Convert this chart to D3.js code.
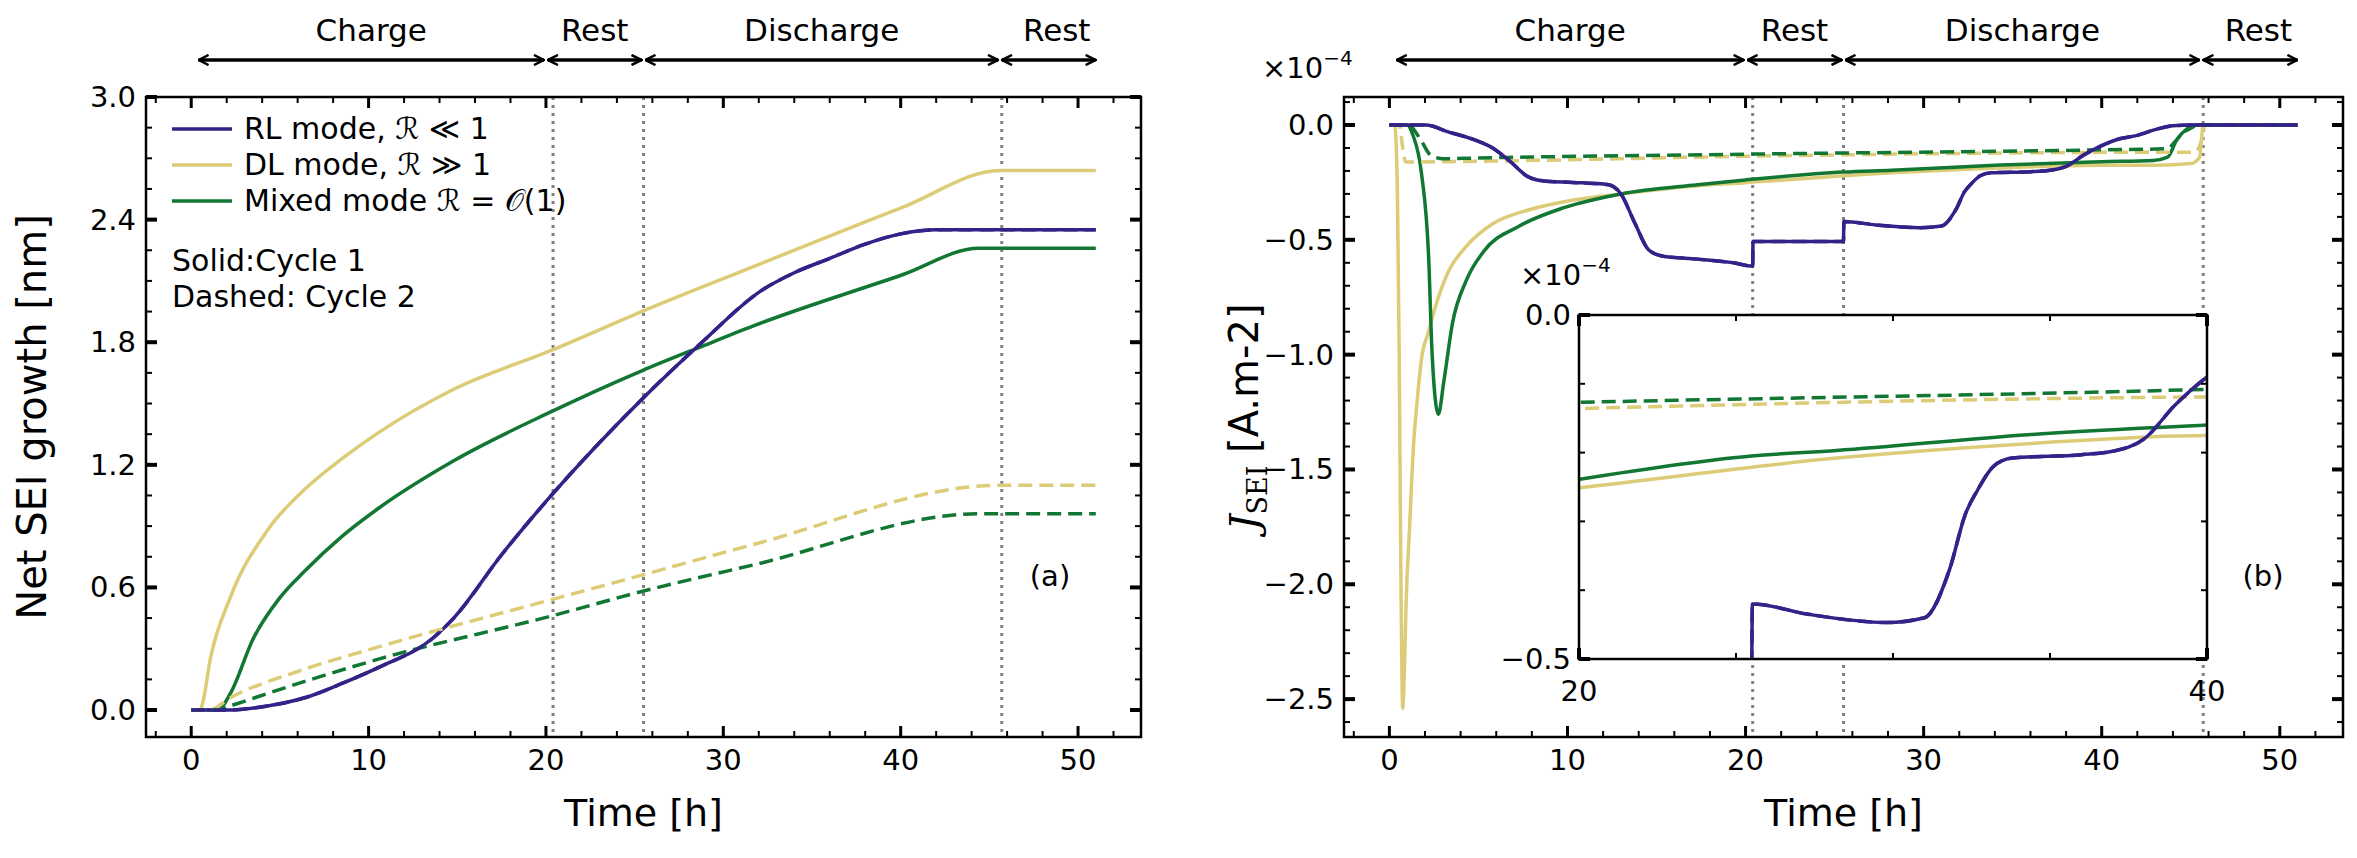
<!DOCTYPE html>
<html><head><meta charset="utf-8">
<script src="https://cdn.jsdelivr.net/npm/d3@7"></script>
<style>body{margin:0;background:#fff}text{font-family:"DejaVu Sans",sans-serif}</style>
</head><body><svg id="c" width="2357" height="858"></svg>
<script>
// ---------- DATA ----------
const phaseBounds = [0.3, 20.0, 25.5, 45.6, 51.1];
const phaseLabels = ["Charge", "Rest", "Discharge", "Rest"];
const vLines = [20.4, 25.5, 45.7];
const leftYTicks = [0.0, 0.6, 1.2, 1.8, 2.4, 3.0];
const xTicks = [0, 10, 20, 30, 40, 50];
const rightYTicks = [0.0, -0.5, -1.0, -1.5, -2.0, -2.5];
const legendLabels = ["RL mode, \u211B \u226A 1", "DL mode, \u211B \u226B 1", "Mixed mode \u211B = \uD835\uDCAA(1)"];

// (a) Net SEI growth [nm]
const aRL_t = [0, 2, 4.3, 6.4, 8.5, 10.6, 13.6, 14.8, 17.5, 20.3, 25.4, 28.8, 32.1, 34, 36, 38, 40, 42, 45.6, 51];
const aRL_v = [0, 0, 0.02, 0.06, 0.13, 0.21, 0.35, 0.45, 0.76, 1.05, 1.52, 1.8, 2.05, 2.14, 2.21, 2.28, 2.33, 2.35, 2.35, 2.35];
const aDL_t = [0, 0.5, 0.6, 1.1, 2.2, 4.3, 6.4, 8.5, 10.6, 14.8, 20.3, 25.4, 31.7, 40.1, 45.6, 51];
const aDL_v = [0, 0, 0.02, 0.26, 0.55, 0.88, 1.08, 1.23, 1.36, 1.57, 1.76, 1.95, 2.17, 2.46, 2.64, 2.64];
const aMX_t = [0, 1.5, 2.2, 3.5, 5, 6.4, 8.5, 10.6, 14.8, 20.3, 25.4, 28.8, 31.7, 40.1, 44.4, 45.6, 51];
const aMX_v = [0, 0, 0.08, 0.35, 0.55, 0.68, 0.85, 0.99, 1.22, 1.46, 1.66, 1.78, 1.88, 2.13, 2.26, 2.26, 2.26];
const aDL2_t = [0, 1.0, 2.2, 6.4, 10.6, 20.3, 25.4, 31.7, 45.6, 51];
const aDL2_v = [0, 0, 0.06, 0.2, 0.31, 0.54, 0.66, 0.81, 1.10, 1.10];
const aMX2_t = [0, 1.5, 2.2, 6.4, 10.6, 20.3, 25.4, 31.7, 44.4, 45.6, 51];
const aMX2_v = [0, 0, 0.02, 0.14, 0.25, 0.46, 0.58, 0.71, 0.96, 0.96, 0.96];

// (b) J_SEI [x1e-4 A.m-2]
const bRL_t = [0, 2.05, 3.3, 4.8, 5.8, 6.8, 7.8, 8.8, 10.3, 12.3, 13.0, 13.8, 14.55, 15.3, 17.3, 19.3, 20.4, 20.42, 25.5, 25.52, 27.3, 29.8, 31.0, 31.8, 32.3, 32.7, 33.2, 33.8, 36.0, 37.0, 38.0, 39.0, 40.0, 41.0, 42.0, 43.0, 44.0, 45.0, 51.0];
const bRL_v = [0, 0, -0.03, -0.065, -0.1, -0.16, -0.226, -0.245, -0.25, -0.26, -0.3, -0.43, -0.543, -0.57, -0.584, -0.6, -0.615, -0.507, -0.507, -0.42, -0.435, -0.447, -0.44, -0.37, -0.29, -0.254, -0.22, -0.208, -0.203, -0.198, -0.18, -0.13, -0.09, -0.06, -0.045, -0.02, -0.003, 0, 0];
const bDL_t = [0, 0.3, 0.45, 0.55, 0.65, 0.75, 0.85, 0.93, 1.14, 1.35, 1.56, 1.8, 2.2, 2.55, 3.3, 4.3, 5.8, 7.8, 9.8, 13.0, 17.3, 20.0, 28.2, 34.3, 40.0, 43.0, 45.0, 45.5, 45.7, 51];
const bDL_v = [0, 0, -0.3, -1.0, -2.0, -2.54, -2.35, -2.1, -1.74, -1.4, -1.2, -1.02, -0.9, -0.8, -0.64, -0.53, -0.43, -0.37, -0.334, -0.3, -0.264, -0.251, -0.208, -0.187, -0.175, -0.175, -0.168, -0.14, 0, 0];
const bMX_t = [0, 1.0, 1.3, 1.8, 2.2, 2.4, 2.75, 3.05, 3.55, 4.3, 5.3, 7.3, 9.8, 13.0, 17.3, 20.0, 25.5, 28.2, 34.3, 40.0, 42.9, 43.7, 44.2, 44.8, 45.2, 51];
const bMX_v = [0, 0, -0.04, -0.21, -0.57, -1.0, -1.26, -1.12, -0.86, -0.68, -0.55, -0.44, -0.36, -0.3, -0.26, -0.239, -0.205, -0.197, -0.174, -0.16, -0.154, -0.14, -0.067, -0.016, 0, 0];
const bDL2_t = [0, 0.55, 0.75, 0.9, 4.8, 20.0, 40.0, 45.2, 45.6, 45.8, 51];
const bDL2_v = [0, 0, -0.1, -0.161, -0.158, -0.136, -0.119, -0.118, -0.07, 0, 0];
const bMX2_t = [0, 1.05, 1.8, 2.3, 3.05, 4.8, 20.0, 40.0, 43.7, 44.1, 44.5, 45.1, 45.3, 51];
const bMX2_v = [0, 0, -0.07, -0.13, -0.147, -0.144, -0.127, -0.108, -0.103, -0.074, -0.038, -0.01, 0, 0];

// ---------- DRAW ----------
const C = {rl: "#332288", dl: "#DDCC77", mx: "#117733"};
const svg = d3.select("#c");
const zip = (t, v) => t.map((d, i) => [d, v[i]]);
const FS = 29;

function panel(x0, x1, yDom, yTicks, yMinorStep, fmt, id) {
  const g = svg.append("g");
  const x = d3.scaleLinear().domain([-2.55, 53.55]).range([x0, x1]);
  const y = d3.scaleLinear().domain(yDom).range([737, 97]);
  svg.append("clipPath").attr("id", id).append("rect").attr("x", x0).attr("y", 97).attr("width", x1 - x0).attr("height", 640);
  const plot = g.append("g").attr("clip-path", `url(#${id})`);
  vLines.forEach(v => plot.append("line").attr("x1", x(v)).attr("x2", x(v)).attr("y1", 97).attr("y2", 737)
    .attr("stroke", "#808080").attr("stroke-width", 3).attr("stroke-dasharray", "3,5"));
  const tk = g.append("g").attr("stroke", "#000");
  d3.range(-2, 54, 2).forEach(v => { const L = (v % 10 === 0) ? 11 : 6, w = (v % 10 === 0) ? 3 : 2;
    tk.append("line").attr("x1", x(v)).attr("x2", x(v)).attr("y1", 737).attr("y2", 737 - L).attr("stroke-width", w);
    tk.append("line").attr("x1", x(v)).attr("x2", x(v)).attr("y1", 97).attr("y2", 97 + L).attr("stroke-width", w); });
  const yr = y.domain();
  const lo = Math.ceil(Math.min(...yr) / yMinorStep - 1e-6), hi = Math.floor(Math.max(...yr) / yMinorStep + 1e-6);
  d3.range(lo, hi + 1).forEach(k => { const v = k * yMinorStep;
    const maj = yTicks.some(t => Math.abs(t - v) < 1e-6); const L = maj ? 11 : 6, w = maj ? 4 : 2;
    tk.append("line").attr("x1", x0).attr("x2", x0 + L).attr("y1", y(v)).attr("y2", y(v)).attr("stroke-width", w);
    tk.append("line").attr("x1", x1).attr("x2", x1 - L).attr("y1", y(v)).attr("y2", y(v)).attr("stroke-width", w); });
  xTicks.forEach(v => g.append("text").attr("x", x(v)).attr("y", 770).attr("text-anchor", "middle").attr("font-size", FS).text(v));
  yTicks.forEach(v => g.append("text").attr("x", x0 - 10).attr("y", y(v) + 10).attr("text-anchor", "end").attr("font-size", FS).text(fmt(v)));
  g.append("rect").attr("x", x0).attr("y", 97).attr("width", x1 - x0).attr("height", 640).attr("fill", "none").attr("stroke", "#000").attr("stroke-width", 2.5);
  g.append("text").attr("x", (x0 + x1) / 2).attr("y", 826).attr("text-anchor", "middle").attr("font-size", 38).text("Time [h]");
  svg.append("defs").html(`<marker id="ah${id}" viewBox="0 0 12 12" refX="11" refY="6" markerWidth="12" markerHeight="12" markerUnits="userSpaceOnUse" orient="auto-start-reverse"><path d="M1,1 L11,6 L1,11" fill="none" stroke="#000" stroke-width="2.5"/></marker>`);
  phaseLabels.forEach((lab, i) => {
    const a = phaseBounds[i], b = phaseBounds[i + 1];
    svg.append("line").attr("x1", x(a) + 2).attr("x2", x(b) - 2).attr("y1", 60).attr("y2", 60).attr("stroke", "#000").attr("stroke-width", 3.5)
      .attr("marker-start", `url(#ah${id})`).attr("marker-end", `url(#ah${id})`);
    svg.append("text").attr("x", x((a + b) / 2) + (i === 3 ? 8 : 0)).attr("y", 41).attr("text-anchor", "middle").attr("font-size", 31).text(lab);
  });
  return {x, y, plot, g};
}

function drawLine(p, t, v, col, dashed) {
  const line = d3.line().x(d => p.x(d[0])).y(d => p.y(d[1])).curve(d3.curveMonotoneX);
  p.plot.append("path").attr("d", line(zip(t, v))).attr("fill", "none").attr("stroke", col).attr("stroke-width", 3.5)
    .attr("stroke-dasharray", dashed ? "14,7" : null);
}

// Panel (a)
const A = panel(146, 1141, [-0.132, 3.0], leftYTicks, 0.15, d3.format(".1f"), "ca");
drawLine(A, aDL_t, aDL_v, C.dl); drawLine(A, aMX_t, aMX_v, C.mx); drawLine(A, aRL_t, aRL_v, C.rl);
drawLine(A, aDL2_t, aDL2_v, C.dl, true); drawLine(A, aMX2_t, aMX2_v, C.mx, true); drawLine(A, aRL_t, aRL_v, C.rl, true);
A.g.append("text").attr("transform", "translate(46,417) rotate(-90)").attr("text-anchor", "middle").attr("font-size", 40).text("Net SEI growth [nm]");
[C.rl, C.dl, C.mx].forEach((c, i) => {
  const yy = 129 + i * 36;
  A.g.append("line").attr("x1", 172).attr("x2", 232).attr("y1", yy).attr("y2", yy).attr("stroke", c).attr("stroke-width", 3.5);
  A.g.append("text").attr("x", 244).attr("y", yy + 10).attr("font-size", 30).text(legendLabels[i]);
});
A.g.append("text").attr("x", 172).attr("y", 271).attr("font-size", 30).text("Solid:Cycle 1");
A.g.append("text").attr("x", 172).attr("y", 307).attr("font-size", 30).text("Dashed: Cycle 2");
A.g.append("text").attr("x", 1050).attr("y", 586).attr("text-anchor", "middle").attr("font-size", 29).text("(a)");

// Panel (b)
const minusFmt = v => (v < 0 ? "\u2212" : "") + Math.abs(v).toFixed(1);
const B = panel(1344, 2343, [-2.665, 0.122], rightYTicks, 0.1, minusFmt, "cb");
drawLine(B, bDL_t, bDL_v, C.dl); drawLine(B, bMX_t, bMX_v, C.mx);
drawLine(B, bDL2_t, bDL2_v, C.dl, true); drawLine(B, bMX2_t, bMX2_v, C.mx, true);
drawLine(B, bRL_t, bRL_v, C.rl); drawLine(B, bRL_t, bRL_v, C.rl, true);
const yl = B.g.append("text").attr("transform", "translate(1258,417) rotate(-90)").attr("text-anchor", "middle").attr("font-size", 40);
yl.append("tspan").attr("font-family", "DejaVu Serif").attr("font-style", "italic").text("J");
yl.append("tspan").attr("font-family", "DejaVu Serif").attr("font-size", 27).attr("dy", 9).text("SEI");
yl.append("tspan").attr("dy", -9).text(" [A.m-2]");
function sci(g, x, y) {
  const t = g.append("text").attr("x", x).attr("y", y).attr("font-size", 29).text("\u00D710");
  t.append("tspan").attr("dy", -13).attr("font-size", 20).text("\u22124");
}
sci(B.g, 1262, 78);
B.g.append("text").attr("x", 2263).attr("y", 586).attr("text-anchor", "middle").attr("font-size", 29).text("(b)");

// Inset
const ix0 = 1579, ix1 = 2207, iy0 = 315, iy1 = 659;
const I = {x: d3.scaleLinear().domain([20, 40]).range([ix0, ix1]), y: d3.scaleLinear().domain([-0.5, 0]).range([iy1, iy0])};
const ig = svg.append("g");
ig.append("rect").attr("x", ix0).attr("y", iy0).attr("width", ix1 - ix0).attr("height", iy1 - iy0).attr("fill", "#fff");
svg.append("clipPath").attr("id", "ci").append("rect").attr("x", ix0).attr("y", iy0).attr("width", ix1 - ix0).attr("height", iy1 - iy0);
I.plot = ig.append("g").attr("clip-path", "url(#ci)");
drawLine(I, bDL_t, bDL_v, C.dl); drawLine(I, bMX_t, bMX_v, C.mx);
drawLine(I, bDL2_t, bDL2_v, C.dl, true); drawLine(I, bMX2_t, bMX2_v, C.mx, true);
drawLine(I, bRL_t, bRL_v, C.rl); drawLine(I, bRL_t, bRL_v, C.rl, true);
[25, 30, 35].forEach(v => { ig.append("line").attr("x1", I.x(v)).attr("x2", I.x(v)).attr("y1", iy0).attr("y2", iy0 + 6).attr("stroke", "#000").attr("stroke-width", 2);
  ig.append("line").attr("x1", I.x(v)).attr("x2", I.x(v)).attr("y1", iy1).attr("y2", iy1 - 6).attr("stroke", "#000").attr("stroke-width", 2); });
[-0.1, -0.2, -0.3, -0.4].forEach(v => { ig.append("line").attr("x1", ix0).attr("x2", ix0 + 6).attr("y1", I.y(v)).attr("y2", I.y(v)).attr("stroke", "#000").attr("stroke-width", 2);
  ig.append("line").attr("x1", ix1).attr("x2", ix1 - 6).attr("y1", I.y(v)).attr("y2", I.y(v)).attr("stroke", "#000").attr("stroke-width", 2); });
[[ix0, iy0], [ix0, iy1], [ix1, iy0], [ix1, iy1]].forEach(([a, b]) => {
  ig.append("line").attr("x1", a).attr("x2", a).attr("y1", b).attr("y2", b + (b === iy0 ? 11 : -11)).attr("stroke", "#000").attr("stroke-width", 4);
  ig.append("line").attr("x1", a).attr("x2", a + (a === ix0 ? 11 : -11)).attr("y1", b).attr("y2", b).attr("stroke", "#000").attr("stroke-width", 4); });
ig.append("rect").attr("x", ix0).attr("y", iy0).attr("width", ix1 - ix0).attr("height", iy1 - iy0).attr("fill", "none").attr("stroke", "#000").attr("stroke-width", 2.5);
ig.append("text").attr("x", ix0 - 8).attr("y", iy0 + 10).attr("text-anchor", "end").attr("font-size", FS).text(minusFmt(0));
ig.append("text").attr("x", ix0 - 8).attr("y", iy1 + 10).attr("text-anchor", "end").attr("font-size", FS).text(minusFmt(-0.5));
ig.append("text").attr("x", ix0).attr("y", iy1 + 42).attr("text-anchor", "middle").attr("font-size", FS).text("20");
ig.append("text").attr("x", ix1).attr("y", iy1 + 42).attr("text-anchor", "middle").attr("font-size", FS).text("40");
sci(ig, 1520, 285);
</script></body></html>
